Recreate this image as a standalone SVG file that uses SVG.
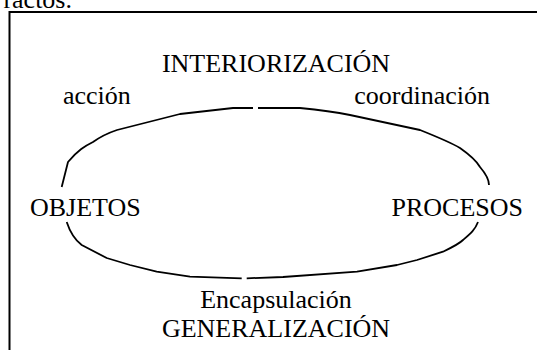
<svg xmlns="http://www.w3.org/2000/svg" width="537" height="350" viewBox="0 0 537 350">
<style>
text{font-family:"Liberation Serif","Times New Roman",serif;fill:#000;font-size:26px}
.c{fill:none;stroke:#000;stroke-width:1.8;stroke-linejoin:round;stroke-linecap:butt}
</style>
<rect width="537" height="350" fill="#fff"/>
<text x="72" y="8" text-anchor="end">ractos.</text>
<path d="M9.5 350 V12 H537" fill="none" stroke="#000" stroke-width="2"/>
<g id="connectors">
<path class="c" d="M61.7 187 L68 162 C78 150 85 146 93 142 C100 137 108 133 117 130 L180 114 L233 108 L253 108"/>
<path class="c" d="M258 108 L300 108 C320 110 335 112 350 115 L420 130 C440 138 450 142 460 148 C470 155 476 160 480 167 C486 174 489 180 489 185"/>
<path class="c" d="M66.7 222 C70 232 75 240 81.7 245 L106.7 258 L130 265 L156.7 271.7 L190 276.7 L241.7 278.3"/>
<path class="c" d="M246.7 278.3 L283 277 L357 271.7 L397 265 L417 260 L443 251.7 C455 246 460 243 463 240 C470 234 475 230 478 222"/>
</g>
<g id="interiorizacion"><text x="276" y="72" text-anchor="middle">INTERIORIZACIÓN</text></g>
<g id="accion"><text x="63" y="104">acción</text></g>
<g id="coordinacion"><text x="490" y="104" text-anchor="end">coordinación</text></g>
<g id="objetos"><text x="30" y="216">OBJETOS</text></g>
<g id="procesos"><text x="523" y="216" text-anchor="end">PROCESOS</text></g>
<g id="encapsulacion"><text x="276" y="308" text-anchor="middle">Encapsulación</text></g>
<g id="generalizacion"><text x="276" y="337" text-anchor="middle">GENERALIZACIÓN</text></g>
</svg>
